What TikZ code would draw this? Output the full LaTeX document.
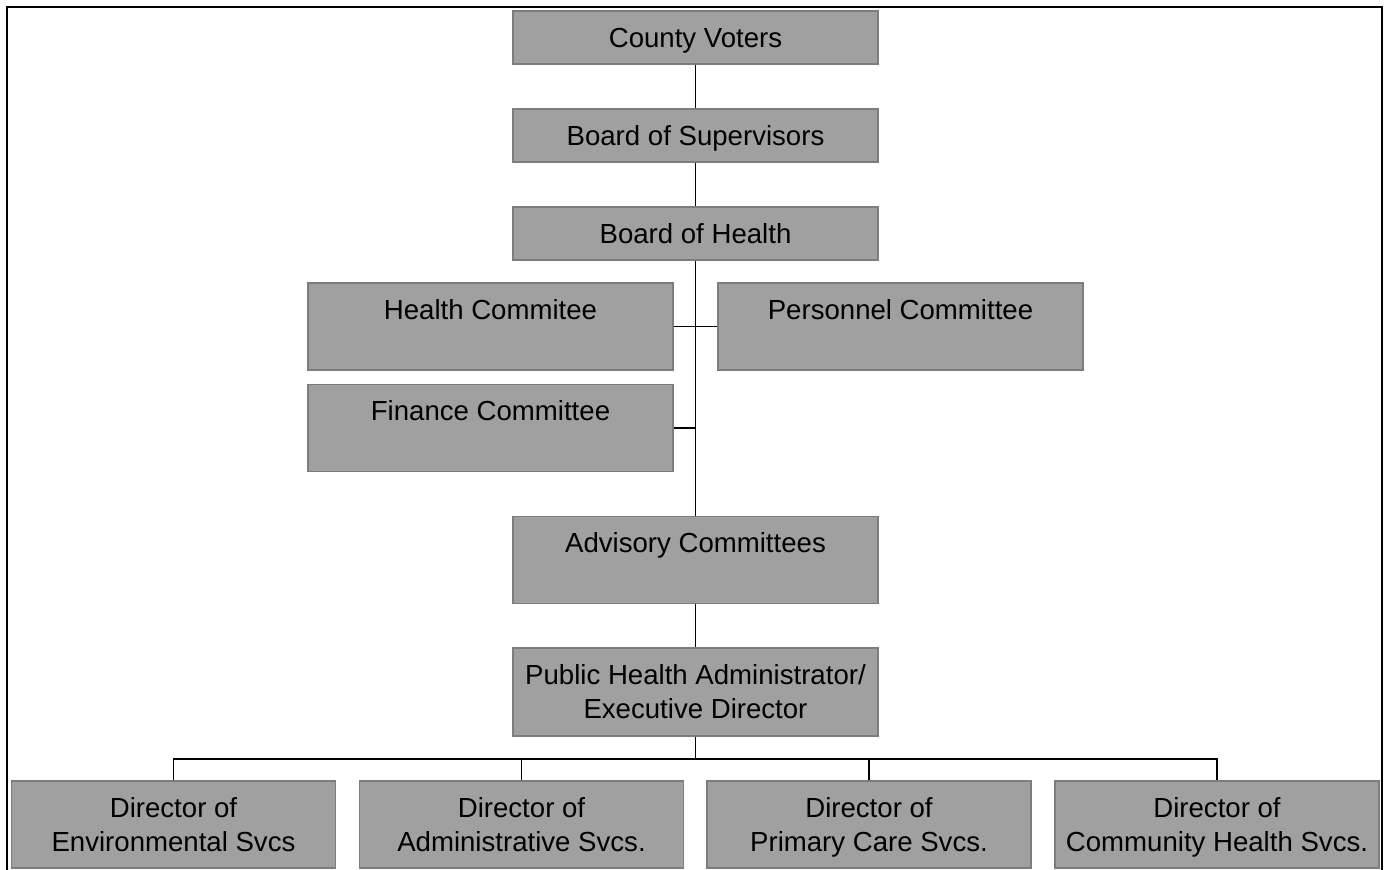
\documentclass[tikz,border=0pt]{standalone}
\usepackage{fontspec}
\setmainfont{Liberation Sans}
\usepackage{tikz}
\definecolor{OrgBoxFill}{RGB}{160,160,160}
\definecolor{OrgBoxLine}{RGB}{125,125,125}
\newcommand{\orgstrut}{\rule[-7.1pt]{0pt}{34pt}}
\newcommand{\orgtwo}[2]{\renewcommand{\arraystretch}{0}\begin{tabular}{@{}c@{}}\orgstrut#1\\\orgstrut#2\end{tabular}}

\begin{document}
\begin{tikzpicture}[x=1pt,y=-1pt,line width=1.9pt,box/.style n args={2}{draw=OrgBoxLine,fill=OrgBoxFill,line width=1.2pt,minimum width=#1,minimum height=#2,inner sep=0pt,font=\fontsize{27.6}{34}\selectfont,rectangle}]
    \useasboundingbox (0,0) rectangle (1387,870);
    \draw[line width=2pt] (6.5,880) |- (1381.5,6.5) -- (1381.5,880);
    \node[box={365pt}{53pt}](cv) at(695.5,37.5) {\orgstrut County Voters};
    \node[box={365pt}{53pt}](bs) at(695.5,135.5) {\orgstrut Board of Supervisors};
    \node[box={365pt}{53pt}](bh) at(695.5,233.5) {\orgstrut Board of Health};
    \node[box={365pt}{87pt}](hc) at(490.5,326.5) {\orgtwo{Health Commitee}{}};
    \node[box={365pt}{87pt}](pc) at(900.5,326.5) {\orgtwo{Personnel Committee}{}};
    \node[box={365pt}{87pt}](fc) at(490.5,428) {\orgtwo{Finance Committee}{}};
    \node[box={365pt}{87pt}](adv) at(695.5,560) {\orgtwo{Advisory Committees}{}};
    \node[box={365pt}{88pt}](pha) at(695.5,692) {\orgtwo{Public Health Administrator/}{Executive Director}};
    \foreach \x/\n/\t in %
    {173.5/d1/Environmental Svcs,521.5/d2/Administrative Svcs.,869/d3/Primary Care Svcs.,1217/d4/Community Health Svcs.} {
       \node[box={324pt}{87pt}](\n) at(\x,824.5) {\orgtwo{Director of}{\t}};
    }
    \coordinate (bus) at(695.5,759);
    \draw (cv) -- (bs);
    \draw (bs) -- (bh);
    \draw (bh) -- (adv);
    \draw (hc) -- (pc);
    \draw (fc) -- (fc -| bh);
    \draw (adv) -- (pha);
    \draw (pha) -- (bus);
    \draw (d1.north) |- (bus) -| (d4.north);
    \foreach \n in {d2,d3} {
       \draw (\n.north) -- (\n.north |- bus);
    }
\end{tikzpicture}
\end{document}
